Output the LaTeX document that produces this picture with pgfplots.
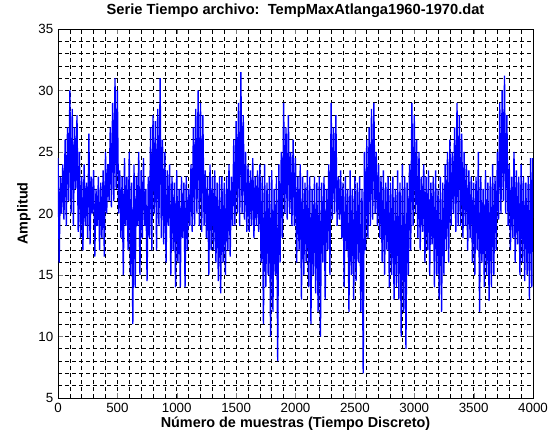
\documentclass[border=0pt]{standalone}
\usepackage{pgfplots}
\pgfplotsset{compat=1.18}
\usepackage{fontspec}
\setmainfont{Liberation Sans}
\pgfplotstableread{
x y
0 24.5
10 16
20 23
30 20
40 24
50 19.5
60 26
70 19
80 27
90 21
100 30
110 20
120 28.5
130 19
140 27
150 22
160 28
170 18.5
180 25
190 18
200 23
210 17
220 24
230 19
240 22.5
250 18
260 26.5
270 17.5
280 23
290 20
300 23.5
310 16.5
320 22
330 19
340 23
350 17
360 22.5
370 18
380 23.5
390 16.5
400 25
410 20
420 24
430 21
440 27
450 20.5
460 29
470 21
480 31
490 22
500 30
510 20
520 23.5
530 18
540 23
550 15
560 24.5
570 19
580 23
590 17
600 25
610 15
620 22.5
630 11
640 24
650 14
660 23
670 19
680 25
690 15
700 23.5
710 18
720 24.5
730 19
740 22
750 14.5
760 23
770 18
780 27
790 17
800 28
810 20
820 27.5
830 17
840 28.5
850 19
860 31
870 18
880 26
890 17.5
900 25
910 16
920 23.5
930 19
940 24
950 15
960 23
970 17
980 22.5
990 14
1000 23.5
1010 16
1020 22
1030 14
1040 23
1050 18
1060 22.5
1070 14
1080 23
1090 17
1100 22
1110 19
1120 24
1130 18.5
1140 27
1150 19
1160 28.5
1170 20
1180 30
1190 19
1200 29
1210 18.5
1220 28
1230 19
1240 23.5
1250 18
1260 23
1270 15
1280 24
1290 17
1300 23
1310 17
1320 23.5
1330 16
1340 22.5
1350 14.5
1360 23
1370 13.5
1380 23
1390 16
1400 22.5
1410 15
1420 23
1430 17
1440 24
1450 16.5
1460 23
1470 19
1480 26
1490 19
1500 27.5
1510 20
1520 29
1530 19
1540 31.5
1550 20
1560 28
1570 19.5
1580 25
1590 18.5
1600 24
1610 18.5
1620 23.5
1630 19
1640 24.5
1650 18
1660 23
1670 19
1680 23.5
1690 18.5
1700 24
1710 16
1720 23
1730 11
1740 24
1750 14
1760 22.5
1770 15
1780 23
1790 10
1800 23.5
1810 12
1820 22
1830 15
1840 23
1850 8
1860 24
1870 16
1880 25
1890 18
1900 29
1910 20
1920 27
1930 19.5
1940 28
1950 20
1960 25
1970 19
1980 26
1990 19
2000 24.5
2010 16
2020 23
2030 17
2040 24
2050 13
2060 23
2070 15
2080 22.5
2090 16
2100 23.5
2110 14
2120 23
2130 11
2140 22
2150 15
2160 23
2170 13.5
2180 22.5
2190 12
2200 23
2210 10
2220 22.5
2230 16
2240 23
2250 13
2260 22
2270 17
2280 24
2290 15
2300 29
2310 19.5
2320 27
2330 20
2340 28
2350 19
2360 23
2370 19.5
2380 23.5
2390 18
2400 22.5
2410 14
2420 23
2430 17
2440 22
2450 12
2460 23.5
2470 15
2480 22
2490 13
2500 23
2510 14.5
2520 22.5
2530 16
2540 23
2550 12
2560 22
2570 7
2580 25
2590 17
2600 26
2610 18
2620 27
2630 19
2640 28.5
2650 19.5
2660 29
2670 20
2680 25
2690 19
2700 24
2710 18
2720 23
2730 16
2740 23.5
2750 15
2760 22.5
2770 17
2780 23
2790 14
2800 22.5
2810 15
2820 23
2830 13
2840 22
2850 14
2860 23.5
2870 13
2880 22.5
2890 10
2900 24
2910 12
2920 23
2930 9
2940 22.5
2950 15
2960 24
2970 17
2980 29
2990 19
3000 28
3010 20
3020 26
3030 18
3040 25
3050 17
3060 23
3070 18.5
3080 24
3090 16
3100 23
3110 17
3120 23.5
3130 15
3140 22.5
3150 17.5
3160 23
3170 14
3180 23.5
3190 15
3200 22
3210 13
3220 23
3230 12
3240 22.5
3250 15
3260 24
3270 17
3280 25
3290 16
3300 26
3310 19
3320 25
3330 20
3340 27
3350 18.5
3360 29
3370 19
3380 28
3390 19
3400 26.5
3410 18
3420 25
3430 19
3440 24
3450 17
3460 23.5
3470 18
3480 23
3490 16
3500 22.5
3510 15
3520 23
3530 17
3540 25
3550 12
3560 23
3570 16
3580 22
3590 14
3600 23.5
3610 15
3620 22.5
3630 12.9
3640 23
3650 14
3660 24
3670 15
3680 23
3690 17
3700 25
3710 19.5
3720 29
3730 20
3740 30
3750 21
3760 31.2
3770 20
3780 28
3790 19
3800 24
3810 17
3820 23
3830 18
3840 25
3850 16
3860 23.5
3870 17.5
3880 23
3890 15
3900 24
3910 16
3920 23
3930 14.5
3940 22.5
3950 15
3960 23
3970 13
3980 24.5
3990 14
3998 24.5
}\serie
\begin{document}
\begin{tikzpicture}
\useasboundingbox (-43.5pt,-33.75pt) rectangle (370.5pt,298.5pt);
\begin{axis}[
  at={(0,0)}, anchor=south west,
  scale only axis, width=356.25pt, height=276.75pt,
  xmin=0, xmax=4000, ymin=5, ymax=35,
  xtick={0,500,...,4000}, ytick={5,10,...,35},
  minor x tick num=4, minor y tick num=4,
  tick align=inside, tick pos=both,
  major tick length=4pt, minor tick length=0pt,
  grid=both,
  major grid style={black, dash pattern=on 3pt off 2.25pt, line width=0.55pt},
  minor grid style={black, dash pattern=on 3pt off 2.25pt, line width=0.55pt},
  axis line style={black, line width=0.6pt},
  /pgf/number format/assume math mode=true,
  scaled x ticks=false,
  x tick label style={/pgf/number format/.cd, set thousands separator={}},
  tick label style={font=\fontsize{10pt}{12pt}\selectfont},
  title={\textbf{Serie Tiempo archivo:\ \ TempMaxAtlanga1960-1970.dat}},
  title style={font=\fontsize{11pt}{13pt}\selectfont, yshift=-1pt},
  xlabel={\textbf{Número de muestras (Tiempo Discreto)}},
  ylabel={\textbf{Amplitud}},
  label style={font=\fontsize{10.8pt}{13pt}\selectfont},
  xlabel style={yshift=3pt},
  ylabel style={yshift=-1pt},
]
\addplot[color={rgb,255:red,0;green,0;blue,255}, line width=1pt, mark=none, line join=miter] table[x=x,y=y] {\serie};
\end{axis}
\end{tikzpicture}
\end{document}
